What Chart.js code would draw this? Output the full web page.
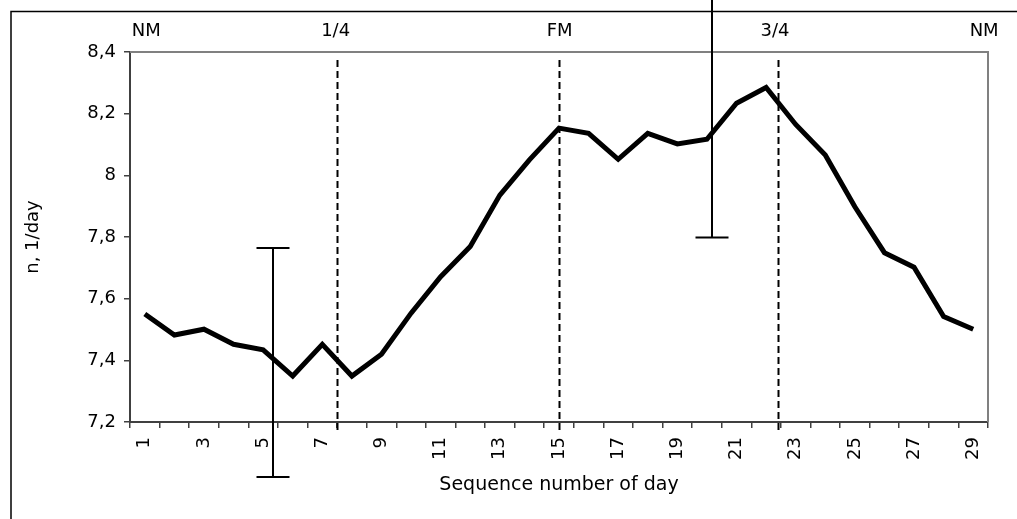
<!DOCTYPE html>
<html><head><meta charset="utf-8">
<script src="https://cdn.jsdelivr.net/npm/chart.js@4.4.1/dist/chart.umd.min.js"></script>
<style>html,body{margin:0;padding:0;background:#fff;overflow:hidden}canvas{display:block}</style>
</head><body>
<canvas id="c" width="1017" height="519"></canvas>
<script>
// ---- data ----
const days = ['1','2','3','4','5','6','7','8','9','10','11','12','13','14','15','16','17','18','19','20','21','22','23','24','25','26','27','28','29'];
const values = [7.55,7.482,7.501,7.452,7.434,7.349,7.452,7.349,7.42,7.553,7.671,7.769,7.936,8.05,8.153,8.136,8.052,8.136,8.102,8.117,8.234,8.285,8.165,8.066,7.898,7.749,7.702,7.542,7.501];
const yMin = 7.2, yMax = 8.4, yStep = 0.2;
const phaseLabels = ['NM','1/4','FM','3/4','NM'];
const phaseLabelDays = [1.05, 7.45, 15.02, 22.3, 29.37];
const phaseLineDays = [7.5, 15, 22.4];
const errDays = [5.33, 20.18];
const errLow = [7.022, 7.798];
const errHigh = [7.764, 8.62];
const xTitle = 'Sequence number of day';
const yTitle = 'n, 1/day';

const FONT = "'DejaVu Sans', sans-serif";
Chart.defaults.color = '#000';
Chart.defaults.font.family = FONT;

const overlay = {
  id: 'overlay',
  beforeDatasetsDraw(chart) {
    const {ctx, chartArea: a, scales: {x, y}} = chart;
    ctx.save();
    ctx.strokeStyle = '#808080';
    ctx.lineWidth = 2;
    ctx.beginPath();
    ctx.moveTo(a.left, a.top); ctx.lineTo(a.right, a.top); ctx.lineTo(a.right, a.bottom);
    ctx.stroke();
    ctx.strokeStyle = '#000';
    ctx.lineWidth = 2;
    ctx.setLineDash([7, 4]);
    phaseLineDays.forEach(d => {
      const px = Math.round(x.getPixelForValue(d - 1)) + 0.5;
      ctx.beginPath();
      ctx.moveTo(px, y.getPixelForValue(yMax) + 8);
      ctx.lineTo(px, a.bottom + 10);
      ctx.stroke();
    });
    ctx.restore();
  },
  afterDatasetsDraw(chart) {
    const {ctx, scales: {x, y}} = chart;
    ctx.save();
    ctx.strokeStyle = '#000';
    ctx.lineWidth = 2;
    errDays.forEach((d, i) => {
      const px = Math.round(x.getPixelForValue(d - 1));
      const top = y.getPixelForValue(errHigh[i]);
      const bot = y.getPixelForValue(errLow[i]);
      ctx.beginPath();
      ctx.moveTo(px, top); ctx.lineTo(px, bot);
      ctx.moveTo(px - 16.5, top); ctx.lineTo(px + 16.5, top);
      ctx.moveTo(px - 16.5, bot); ctx.lineTo(px + 16.5, bot);
      ctx.stroke();
    });
    ctx.fillStyle = '#000';
    ctx.font = "18px " + FONT;
    ctx.textAlign = 'center';
    ctx.textBaseline = 'middle';
    phaseLabels.forEach((t, i) => {
      ctx.fillText(t, x.getPixelForValue(phaseLabelDays[i] - 1), 31);
    });
    ctx.strokeStyle = '#000';
    ctx.lineWidth = 1.5;
    ctx.beginPath();
    ctx.moveTo(11, chart.height); ctx.lineTo(11, 11.5); ctx.lineTo(chart.width, 11.5);
    ctx.stroke();
    ctx.restore();
  }
};

new Chart(document.getElementById('c'), {
  type: 'line',
  data: {
    labels: days,
    datasets: [{
      data: values,
      borderColor: '#000',
      borderWidth: 5,
      pointRadius: 0,
      tension: 0,
      borderJoinStyle: 'miter',
      fill: false
    }]
  },
  options: {
    responsive: false,
    animation: false,
    events: [],
    layout: {padding: {left: 0, top: 52, right: 29, bottom: 0}},
    plugins: {legend: {display: false}, tooltip: {enabled: false}},
    scales: {
      x: {
        type: 'category',
        offset: true,
        grid: {offset: true, drawOnChartArea: false, drawTicks: true, tickLength: 6, color: '#404040', lineWidth: 1.5},
        border: {color: '#404040', width: 2},
        ticks: {
          autoSkip: false, minRotation: 90, maxRotation: 90, padding: 9,
          font: {size: 18, family: FONT},
          callback: function(v, i) { return i % 2 === 0 ? this.getLabelForValue(v) : ''; }
        },
        title: {display: true, text: xTitle, font: {size: 19, family: FONT}, padding: {top: 0, bottom: 23}},
        afterFit: s => { s.height = 97; }
      },
      y: {
        min: yMin, max: yMax,
        grid: {drawOnChartArea: false, drawTicks: true, tickLength: 6, color: '#404040', lineWidth: 1.5},
        border: {color: '#404040', width: 2},
        ticks: {
          stepSize: yStep, padding: 8,
          font: {size: 18, family: FONT},
          callback: v => String(Math.round(v * 10) / 10).replace('.', ',')
        },
        title: {display: true, text: yTitle, font: {size: 18, family: FONT}, padding: {top: 23, bottom: 0}},
        afterFit: s => { s.width = 130; }
      }
    }
  },
  plugins: [overlay]
});
</script>
</body></html>
